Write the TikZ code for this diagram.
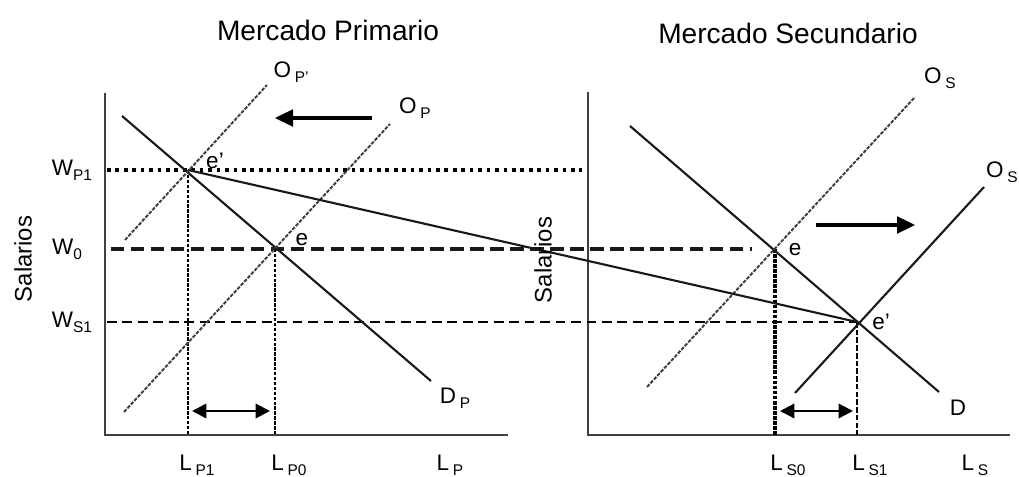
\documentclass[tikz,border=0pt]{standalone}
\usepackage{fontspec}
\setmainfont{Liberation Sans}
\usepackage{tikz}
\usetikzlibrary{arrows.meta, calc}

\newcommand{\sub}[1]{\raisebox{-0.4ex}{\fontsize{11}{12}\selectfont #1}}
\newcommand{\etiq}{\fontsize{16}{18}\selectfont}

\begin{document}
\begin{tikzpicture}[x=0.025cm, y=-0.025cm,
    eje/.style={line width=2pt, black!75},
    curva/.style={line width=1.5pt, black!90},
    oferta/.style={line width=1.4pt, black!75, dash pattern=on 2.6pt off 1pt},
    puntos/.style={line width=2.6pt, dash pattern=on 2.6pt off 3.4pt},
    rayasg/.style={line width=3pt, black!90, dash pattern=on 9.5pt off 4.7pt},
    rayas/.style={line width=1.7pt, dash pattern=on 7pt off 4pt},
    vertp/.style={line width=1.8pt, dash pattern=on 2.4pt off 1.1pt},
    vertg/.style={line width=2.5pt, dash pattern=on 2.6pt off 1pt},
    vertr/.style={line width=1.8pt, dash pattern=on 4pt off 1.5pt},
    flecha/.style={line width=2.2pt, -{Triangle[length=0.45cm, width=0.42cm]}},
    doble/.style={line width=1.6pt, {Triangle[length=0.36cm, width=0.36cm]}-{Triangle[length=0.36cm, width=0.36cm]}}]
    \useasboundingbox (0,0) rectangle (1019,477);

    % Puntos de equilibrio
    \coordinate (eP1) at (188,170);
    \coordinate (eP0) at (275,249);
    \coordinate (eS0) at (775,249);
    \coordinate (eS1) at (857,322);

    % Ejes
    \draw[eje] (105,93) -- (105,435) -- (508,435);
    \draw[eje] (588,92) -- (588,435) -- (1010,435);

    % Lineas horizontales de salarios
    \draw[puntos] (107,170) -- (582,170);
    \draw[rayasg] (111,249) -- (752,249);
    \draw[rayas] (107,322) -- (eS1);

    % Lineas verticales de empleo
    \draw[vertp] (eP1) -- (188,435);
    \draw[vertp] (eP0) -- (275,435);
    \draw[vertg] (eS0) -- (775,435);
    \draw[vertr] (eS1) -- (857,435);

    % Demanda y oferta
    \draw[curva] (122,116) -- (431,381);
    \draw[curva] (630,126) -- (939,392);
    \draw[oferta] (125,240) -- (267,85);
    \draw[oferta] (124,412) -- (390,124);
    \draw[oferta] (647,387) -- (915,97);
    \draw[curva] (795,393) -- (984,187);

    % Union de los dos equilibrios
    \draw[curva] (eP1) -- (eS1);

    % Flechas
    \draw[flecha] (372,118) -- (275,118);
    \draw[flecha] (816,225) -- (915,225);
    \draw[doble] (192,411) -- (270,411);
    \draw[doble] (780,411) -- (853,411);

    % Titulos
    \node (tituloP) at (328,30) {\fontsize{20}{24}\selectfont Mercado Primario};
    \node (tituloS) at (788,33) {\fontsize{20}{24}\selectfont Mercado Secundario};
    \node[rotate=90] (salP) at (23,259) {\fontsize{17}{20}\selectfont Salarios};
    \node[rotate=90] (salS) at (543,260) {\fontsize{17}{20}\selectfont Salarios};

    % Etiquetas de los salarios
    \node (wP1) at (72,170) {\etiq W\sub{P1}};
    \node (w0) at (67,249) {\etiq W\sub{0}};
    \node (wS1) at (72,322) {\etiq W\sub{S1}};

    % Etiquetas de las curvas
    \node (oP1) at (291,72) {\etiq O\,\sub{P’}};
    \node (oP) at (415,108) {\etiq O\,\sub{P}};
    \node (dP) at (455,398) {\etiq D\,\sub{P}};
    \node (oS0) at (940,78) {\etiq O\,\sub{S}};
    \node (oS1) at (1002,172) {\etiq O\,\sub{S}};
    \node (dS) at (958,408) {\etiq D};

    % Etiquetas de los equilibrios
    \node (lblP1) at (215,161) {\etiq e’};
    \node (lblP0) at (302,240) {\etiq e};
    \node (lblS0) at (795,250) {\etiq e};
    \node (lblS1) at (881,322) {\etiq e’};

    % Etiquetas del eje horizontal
    \node (lP1) at (197,465) {\etiq L\,\sub{P1}};
    \node (lP0) at (289,465) {\etiq L\,\sub{P0}};
    \node (lP) at (450,465) {\etiq L\,\sub{P}};
    \node (lS0) at (788,465) {\etiq L\,\sub{S0}};
    \node (lS1) at (870,465) {\etiq L\,\sub{S1}};
    \node (lS) at (975,465) {\etiq L\,\sub{S}};
\end{tikzpicture}
\end{document}
